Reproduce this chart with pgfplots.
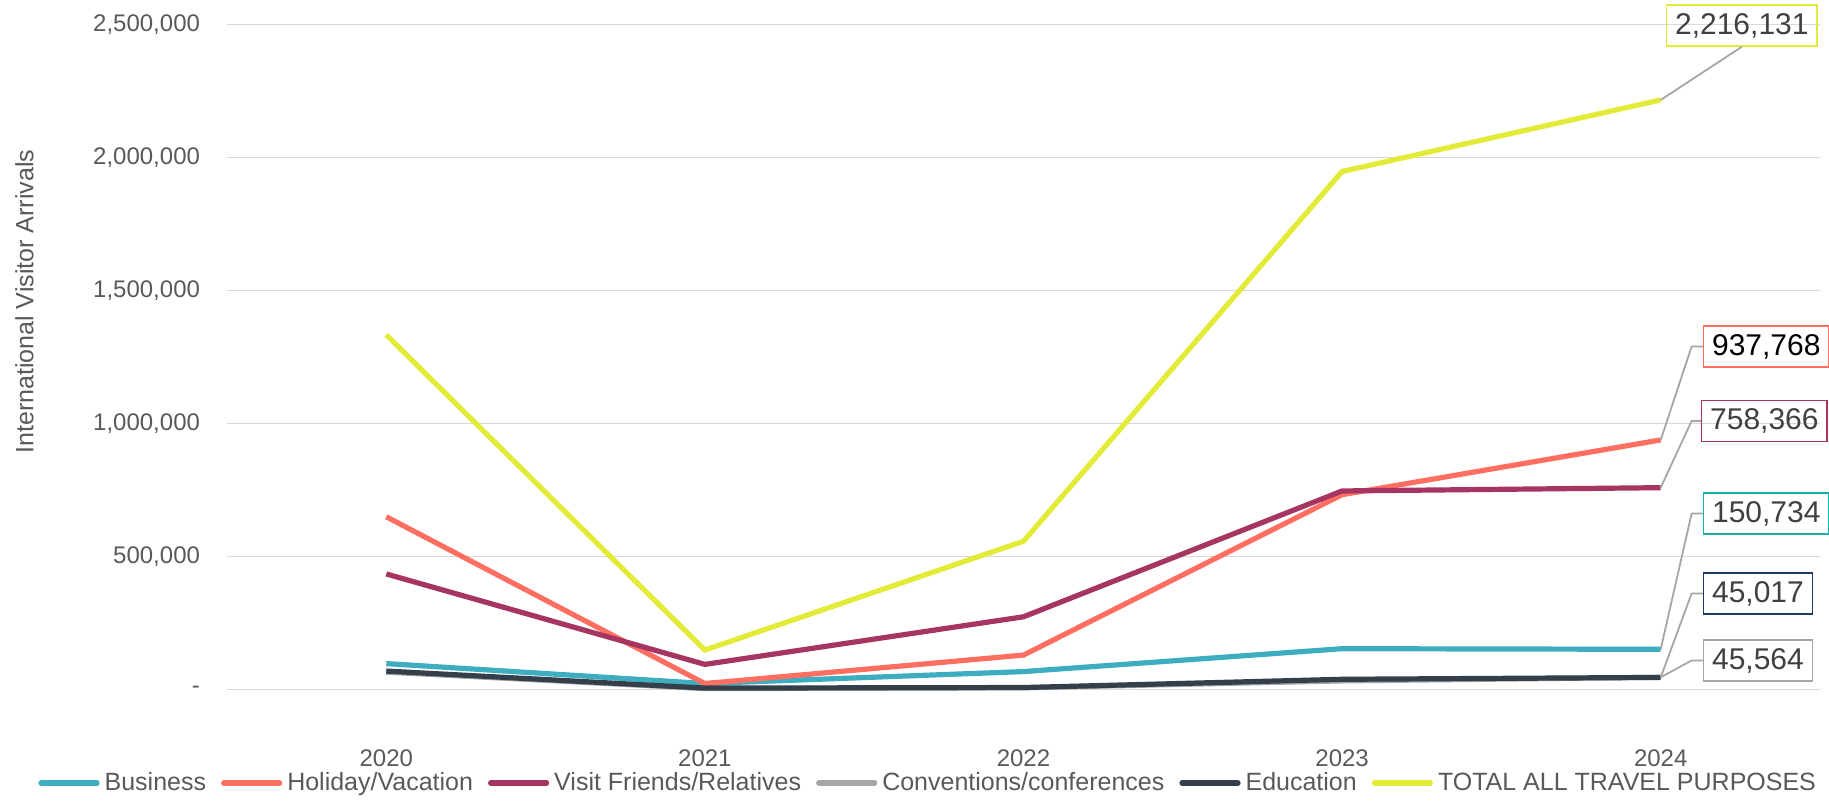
\documentclass[border=0pt]{standalone}
\usepackage{pgfplots}
\pgfplotsset{compat=1.18}
\usepackage{fontspec}
\setmainfont{Liberation Sans}
\definecolor{cBus}{HTML}{3DAEBF}
\definecolor{cHol}{HTML}{FF6F61}
\definecolor{cVfr}{HTML}{A63561}
\definecolor{cCon}{HTML}{A5A5A5}
\definecolor{cEdu}{HTML}{333F4B}
\definecolor{cTot}{HTML}{E2EC38}
\definecolor{cGrid}{HTML}{D9D9D9}
\definecolor{cText}{HTML}{595959}
\definecolor{cLbl}{HTML}{404040}
\definecolor{cBoxBus}{HTML}{17B0A8}
\definecolor{cBoxEdu}{HTML}{203864}
\definecolor{cLead}{HTML}{A6A6A6}
\tikzset{
  lbl/.style={font=\fontsize{15bp}{18bp}\selectfont, text=cLbl, inner xsep=4.25bp, minimum height=20.5bp, line width=0.8bp, anchor=west},
  leader/.style={draw=cLead, line width=0.9bp}
}
\begin{document}
\begin{tikzpicture}
\useasboundingbox (-113.5bp,-56.8bp) rectangle (801bp,344.7bp);
\begin{axis}[
  at={(0,0)}, anchor=south west,
  scale only axis, width=796.5bp, height=332.5bp,
  xmin=2019.5, xmax=2024.5, ymin=0, ymax=2500000,
  xtick={2020,2021,2022,2023,2024},
  xticklabels={2020,2021,2022,2023,2024},
  ytick={0,500000,1000000,1500000,2000000,2500000},
  yticklabels={{-\hspace{6bp}},{500,000},{1,000,000},{1,500,000},{2,000,000},{2,500,000}},
  scaled y ticks=false,
  axis line style={draw=none},
  major tick length=0pt,
  ymajorgrids, grid style={draw=cGrid, line width=0.75bp},
  tick label style={font=\fontsize{12bp}{14bp}\selectfont, text=cText},
  xticklabel style={anchor=center, yshift=-34.5bp},
  yticklabel style={anchor=east, xshift=-10bp},
  clip=false,
  every axis y label/.style={at={(axis description cs:-0.1271,0.583)}, rotate=90, anchor=center, font=\fontsize{12.5bp}{15bp}\selectfont, text=cText},
  ylabel={International Visitor Arrivals},
  legend columns=6,
  legend style={at={(-0.1186,-0.1408)}, anchor=west, draw=none, fill=none,
    font=\fontsize{12.5bp}{15bp}\selectfont, text=cText, inner sep=0pt,
    nodes={inner sep=0pt},
    /tikz/every odd column/.append style={column sep=2.5bp},
    /tikz/every even column/.append style={column sep=7.5bp}},
  legend image code/.code={\draw[#1, line cap=round] (0bp,0bp) -- (28bp,0bp);},
  every axis plot/.append style={line width=2.6bp, mark=none},
]
\addplot[cBus] coordinates {(2020,97000) (2021,22000) (2022,67000) (2023,153000) (2024,150734)};
\addlegendentry{Business}
\addplot[cHol] coordinates {(2020,649000) (2021,22000) (2022,129000) (2023,732000) (2024,937768)};
\addlegendentry{Holiday/Vacation}
\addplot[cVfr] coordinates {(2020,434000) (2021,94000) (2022,273000) (2023,746000) (2024,758366)};
\addlegendentry{Visit Friends/Relatives}
\addplot[cCon] coordinates {(2020,65000) (2021,3000) (2022,6000) (2023,32000) (2024,45564)};
\addlegendentry{Conventions/conferences}
\addplot[cEdu] coordinates {(2020,69000) (2021,5000) (2022,7000) (2023,38000) (2024,45017)};
\addlegendentry{Education}
\addplot[cTot] coordinates {(2020,1333000) (2021,148000) (2022,557000) (2023,1947000) (2024,2216131)};
\addlegendentry{TOTAL ALL TRAVEL PURPOSES}

\node[lbl, draw=cTot] (tTot) at (axis cs:2024.016,2496000) {2,216,131};
\draw[leader] (axis cs:2024,2216131) -- (tTot.south);
\node[lbl, draw=cHol, text=black] (tHol) at (axis cs:2024.132,1289000) {937,768};
\draw[leader] (axis cs:2024,937768) -- (axis cs:2024.097,1289000) -- (tHol.west);
\node[lbl, draw=cVfr] (tVfr) at (axis cs:2024.126,1009000) {758,366};
\draw[leader] (axis cs:2024,758366) -- (axis cs:2024.097,1009000) -- (tVfr.west);
\node[lbl, draw=cBoxBus] (tBus) at (axis cs:2024.132,661000) {150,734};
\draw[leader] (axis cs:2024,150734) -- (axis cs:2024.097,661000) -- (tBus.west);
\node[lbl, draw=cBoxEdu] (tEdu) at (axis cs:2024.132,360600) {45,017};
\draw[leader] (axis cs:2024,45017) -- (axis cs:2024.097,360600) -- (tEdu.west);
\node[lbl, draw=cCon] (tCon) at (axis cs:2024.132,108700) {45,564};
\draw[leader] (axis cs:2024,45564) -- (axis cs:2024.097,108700) -- (tCon.west);
\end{axis}
\end{tikzpicture}
\end{document}
